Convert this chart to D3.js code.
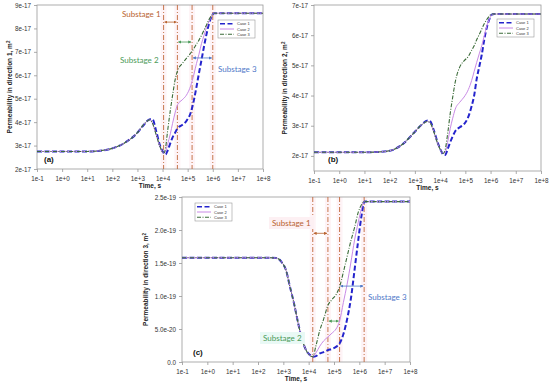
<!DOCTYPE html>
<html>
<head>
<meta charset="utf-8">
<script src="https://cdn.jsdelivr.net/npm/d3@7"></script>
<style>
  body { margin: 0; background: #fff; }
  text { font-family: "Liberation Sans", Arial, sans-serif; }
  .note { font-family: Lato, "Open Sans", sans-serif; }
</style>
</head>
<body>
<div id="chart"></div>
<script>
// Time grids (s)
const timeAB = [0.1, 10, 32, 100, 316, 1000, 1780, 3160, 3980, 5620, 7940, 1.12e4, 1.32e4, 1.58e4, 2.04e4, 2.51e4, 3.16e4, 3.98e4, 6.03e4, 8.91e4, 1.32e5, 1.78e5, 2.24e5, 2.82e5, 3.55e5, 4.47e5, 5.62e5, 7.08e5, 8.91e5, 1.12e6, 1.41e6, 1e8];
const timeC = [0.1, 10, 100, 270, 520, 830, 1300, 1800, 2600, 3600, 5000, 7900, 1.1e4, 1.45e4, 1.95e4, 2.75e4, 3.9e4, 5.75e4, 8.5e4, 1.2e5, 1.66e5, 2.34e5, 3.3e5, 4.6e5, 6.5e5, 9.1e5, 1.2e6, 1.6e6, 1e8];

// (a) permeability in direction 1, units of 1e-17 m2
const a_case1 = [2.75, 2.75, 2.78, 2.88, 3.12, 3.55, 3.88, 4.12, 4.12, 3.6, 3.0, 2.68, 2.62, 2.78, 3.1, 3.35, 3.55, 3.74, 3.88, 4.05, 4.4, 4.95, 5.5, 6.09, 6.65, 7.23, 7.75, 8.2, 8.5, 8.65, 8.65, 8.65];
const a_case2 = [2.75, 2.75, 2.78, 2.88, 3.12, 3.55, 3.9, 4.1, 3.95, 3.45, 2.95, 2.68, 2.75, 3.05, 3.5, 3.95, 4.4, 4.75, 4.95, 5.15, 5.55, 6.05, 6.5, 6.9, 7.35, 7.7, 8.05, 8.3, 8.52, 8.65, 8.65, 8.65];
const a_case3 = [2.75, 2.75, 2.78, 2.88, 3.12, 3.55, 3.9, 4.1, 3.95, 3.45, 2.95, 2.68, 2.9, 3.6, 4.5, 5.15, 5.8, 6.2, 6.5, 6.72, 6.95, 7.15, 7.33, 7.5, 7.7, 7.92, 8.15, 8.38, 8.55, 8.65, 8.65, 8.65];

// (b) permeability in direction 2, units of 1e-17 m2
const b_case1 = [2.12, 2.12, 2.13, 2.17, 2.38, 2.8, 3.02, 3.17, 3.15, 2.85, 2.45, 2.15, 2.05, 2.03, 2.25, 2.45, 2.65, 2.82, 2.95, 3.05, 3.3, 3.65, 4.0, 4.55, 4.95, 5.35, 5.85, 6.25, 6.52, 6.68, 6.7, 6.7];
const b_case2 = [2.12, 2.12, 2.13, 2.17, 2.38, 2.8, 3.02, 3.14, 3.1, 2.8, 2.42, 2.15, 2.08, 2.12, 2.5, 2.9, 3.25, 3.55, 3.78, 3.95, 4.2, 4.5, 4.8, 5.1, 5.38, 5.65, 5.98, 6.3, 6.52, 6.68, 6.7, 6.7];
const b_case3 = [2.12, 2.12, 2.13, 2.17, 2.38, 2.8, 3.02, 3.14, 3.1, 2.8, 2.42, 2.15, 2.08, 2.2, 2.8, 3.4, 3.95, 4.45, 4.95, 5.15, 5.3, 5.5, 5.65, 5.85, 6.02, 6.2, 6.38, 6.52, 6.63, 6.7, 6.7, 6.7];

// (c) permeability in direction 3, units of 1e-19 m2
const c_case1 = [1.58, 1.58, 1.58, 1.58, 1.575, 1.52, 1.38, 1.15, 0.9, 0.64, 0.4, 0.18, 0.11, 0.08, 0.09, 0.13, 0.15, 0.18, 0.2, 0.23, 0.28, 0.42, 0.65, 0.95, 1.4, 1.85, 2.2, 2.43, 2.43];
const c_case2 = [1.58, 1.58, 1.58, 1.58, 1.575, 1.52, 1.38, 1.15, 0.9, 0.64, 0.4, 0.18, 0.1, 0.08, 0.14, 0.24, 0.32, 0.38, 0.44, 0.5, 0.62, 0.9, 1.18, 1.5, 1.85, 2.12, 2.32, 2.43, 2.43];
const c_case3 = [1.58, 1.58, 1.58, 1.58, 1.575, 1.52, 1.38, 1.15, 0.9, 0.64, 0.4, 0.18, 0.1, 0.08, 0.25, 0.48, 0.65, 0.86, 0.95, 1.02, 1.14, 1.36, 1.6, 1.83, 2.04, 2.27, 2.38, 2.43, 2.43];

// substage boundaries (s)
const a_stageLines = [1.1e4, 3.9e4, 1.5e5, 1e6];
const c_stageLines = [1.45e4, 5.75e4, 1.66e5, 1.55e6];

const caseNames = ["Case 1", "Case 2", "Case 3"];
const xTicks = [0.1, 1, 10, 100, 1e3, 1e4, 1e5, 1e6, 1e7, 1e8];
const a_yTicks = [2, 3, 4, 5, 6, 7, 8, 9];
const b_yTicks = [2, 3, 4, 5, 6, 7];
const c_yTicks = [0, 0.5, 1.0, 1.5, 2.0, 2.5];
const c_yTickLabels = ["0.0", "5.0e-20", "1.0e-19", "1.5e-19", "2.0e-19", "2.5e-19"];

const caseStyle = [
  { color: "#2424cc", width: 2, dash: "5,2.5" },
  { color: "#c98ae6", width: 1, dash: null },
  { color: "#3b6b38", width: 1.1, dash: "4,1.5,1,1.5" }
];

const svg = d3.select("#chart").append("svg")
  .attr("width", 550)
  .attr("height", 386);

// arrow heads
const defs = svg.append("defs");
function arrowMarker(id, color) {
  defs.append("marker")
    .attr("id", id)
    .attr("viewBox", "0 0 10 10")
    .attr("refX", 9).attr("refY", 5)
    .attr("markerWidth", 4).attr("markerHeight", 4)
    .attr("orient", "auto-start-reverse")
    .append("path")
    .attr("d", "M0,0L10,5L0,10z")
    .attr("fill", color);
}
arrowMarker("arBrown", "#b8622e");
arrowMarker("arGreen", "#4a9a58");
arrowMarker("arBlue", "#4f78c8");

function fmtExp(t) {
  const e = Math.round(Math.log10(t));
  return "1e" + (e >= 0 ? "+" : "-") + Math.abs(e);
}

function drawPanel(p) {
  const x = d3.scaleLog().domain([0.1, 1e8]).range([p.x0, p.x1]);
  const y = d3.scaleLinear().domain(p.yDomain).range([p.y1, p.y0]);
  const g = svg.append("g");

  // faint bands behind the stage lines
  if (p.stageLines) {
    g.selectAll(".band").data(p.stageLines).enter().append("rect")
      .attr("x", d => x(d) - 3).attr("width", 6)
      .attr("y", p.y0).attr("height", p.y1 - p.y0)
      .attr("fill", "#fef3f6");
  }

  // axes
  const xAxis = d3.axisBottom(x).tickValues(xTicks).tickFormat(fmtExp).tickSize(3);
  const yAxis = d3.axisLeft(y).tickValues(p.yTicks).tickFormat(p.yFmt).tickSize(3);
  const gx = g.append("g").attr("transform", `translate(0,${p.y1})`).call(xAxis);
  const gy = g.append("g").attr("transform", `translate(${p.x0},0)`).call(yAxis);
  [gx, gy].forEach(ax => {
    ax.select(".domain").remove();
    ax.selectAll("line").attr("stroke", "#888").attr("stroke-width", 0.7);
    ax.selectAll("text").attr("font-size", 6.3).attr("fill", "#333")
      .attr("font-family", "Liberation Sans, Arial, sans-serif");
  });
  gx.selectAll("text").attr("dy", "0.9em");

  g.append("rect")
    .attr("x", p.x0).attr("y", p.y0)
    .attr("width", p.x1 - p.x0).attr("height", p.y1 - p.y0)
    .attr("fill", "none").attr("stroke", "#999").attr("stroke-width", 0.8);

  if (p.stageLines) {
    g.selectAll(".stage").data(p.stageLines).enter().append("line")
      .attr("x1", d => x(d)).attr("x2", d => x(d))
      .attr("y1", p.y0).attr("y2", p.y1)
      .attr("stroke", "#c0683a").attr("stroke-width", 0.9)
      .attr("stroke-dasharray", "5,2,1,2");
  }

  // curves
  const line = d3.line()
    .x(d => x(d[0])).y(d => y(d[1]))
    .curve(d3.curveMonotoneX);
  p.cases.forEach((vals, i) => {
    const pts = p.time.map((t, k) => [t, vals[k]]);
    g.append("path")
      .attr("d", line(pts))
      .attr("fill", "none")
      .attr("stroke", caseStyle[i].color)
      .attr("stroke-width", caseStyle[i].width)
      .attr("stroke-dasharray", caseStyle[i].dash);
  });

  // titles
  g.append("text")
    .attr("x", (p.x0 + p.x1) / 2).attr("y", p.y1 + 19)
    .attr("text-anchor", "middle")
    .attr("font-size", 6.5).attr("font-weight", "bold").attr("fill", "#222")
    .text("Time, s");
  const yt = g.append("text")
    .attr("transform", `translate(${p.yTitleX},${(p.y0 + p.y1) / 2}) rotate(-90)`)
    .attr("text-anchor", "middle")
    .attr("font-size", 6.5).attr("font-weight", "bold").attr("fill", "#222");
  yt.append("tspan").text(p.yTitle + ", m");
  yt.append("tspan").attr("dy", -2.5).attr("font-size", 4.5).text("2");

  g.append("text")
    .attr("x", p.tagX).attr("y", p.tagY)
    .attr("font-size", 8).attr("font-weight", "bold").attr("fill", "#111")
    .text(p.tag);

  // legend
  const lg = g.append("g").attr("transform", `translate(${p.legend[0]},${p.legend[1]})`);
  lg.append("rect").attr("width", 37).attr("height", 18)
    .attr("fill", "#fff").attr("stroke", "#999").attr("stroke-width", 0.6);
  caseNames.forEach((n, i) => {
    lg.append("line")
      .attr("x1", 2).attr("x2", 16).attr("y1", 3.8 + i * 5.2).attr("y2", 3.8 + i * 5.2)
      .attr("stroke", caseStyle[i].color)
      .attr("stroke-width", Math.min(caseStyle[i].width, 1.6))
      .attr("stroke-dasharray", caseStyle[i].dash);
    lg.append("text")
      .attr("x", 19).attr("y", 5.3 + i * 5.2)
      .attr("font-size", 4).attr("fill", "#333")
      .text(n);
  });

  // substage notes
  (p.notes || []).forEach(n => {
    if (n.bg) {
      g.append("rect")
        .attr("x", n.x - 3).attr("y", n.y - 9)
        .attr("width", 45).attr("height", 12)
        .attr("fill", n.bg);
    }
    g.append("text").attr("class", "note")
      .attr("x", n.x).attr("y", n.y)
      .attr("font-size", 8).attr("fill", n.color)
      .text(n.text);
  });
  (p.arrows || []).forEach(a => {
    g.append("line")
      .attr("x1", x(p.stageLines[a.from]) + 1).attr("x2", x(p.stageLines[a.to]) - 1)
      .attr("y1", y(a.v)).attr("y2", y(a.v))
      .attr("stroke", a.color).attr("stroke-width", 0.8)
      .attr("marker-start", `url(#${a.marker})`)
      .attr("marker-end", `url(#${a.marker})`);
  });
}

drawPanel({
  x0: 37, x1: 263, y0: 5, y1: 169,
  yDomain: [2, 9], yTicks: a_yTicks, yFmt: d => d + "e-17",
  yTitle: "Permeability in direction 1", yTitleX: 12,
  tag: "(a)", tagX: 44, tagY: 162,
  time: timeAB, cases: [a_case1, a_case2, a_case3],
  stageLines: a_stageLines,
  legend: [218, 20],
  notes: [
    { text: "Substage 1", color: "#b8622e", x: 122, y: 17 },
    { text: "Substage 2", color: "#4a9a58", x: 120, y: 63 },
    { text: "Substage 3", color: "#4f78c8", x: 218, y: 72 }
  ],
  arrows: [
    { from: 0, to: 1, v: 8.27, color: "#b8622e", marker: "arBrown" },
    { from: 1, to: 2, v: 7.42, color: "#4a9a58", marker: "arGreen" },
    { from: 2, to: 3, v: 6.74, color: "#4f78c8", marker: "arBlue" }
  ]
});

drawPanel({
  x0: 314, x1: 541, y0: 5, y1: 171,
  yDomain: [1.5, 7], yTicks: b_yTicks, yFmt: d => d + "e-17",
  yTitle: "Permeability in direction 2", yTitleX: 287,
  tag: "(b)", tagX: 328, tagY: 162,
  time: timeAB, cases: [b_case1, b_case2, b_case3],
  legend: [497, 19]
});

drawPanel({
  x0: 182, x1: 410, y0: 197, y1: 362,
  yDomain: [0, 2.5], yTicks: c_yTicks, yFmt: (d, i) => c_yTickLabels[i],
  yTitle: "Permeability in direction 3", yTitleX: 148,
  tag: "(c)", tagX: 193, tagY: 355,
  time: timeC, cases: [c_case1, c_case2, c_case3],
  stageLines: c_stageLines,
  legend: [195, 203],
  notes: [
    { text: "Substage 1", color: "#b8622e", x: 272, y: 226, bg: "#fdf0f3" },
    { text: "Substage 2", color: "#4a9a58", x: 263, y: 341, bg: "#e9f9f5" },
    { text: "Substage 3", color: "#4f78c8", x: 368, y: 300 }
  ],
  arrows: [
    { from: 0, to: 1, v: 1.95, color: "#b8622e", marker: "arBrown" },
    { from: 1, to: 2, v: 0.62, color: "#4a9a58", marker: "arGreen" },
    { from: 2, to: 3, v: 1.15, color: "#4f78c8", marker: "arBlue" }
  ]
});
</script>
</body>
</html>
